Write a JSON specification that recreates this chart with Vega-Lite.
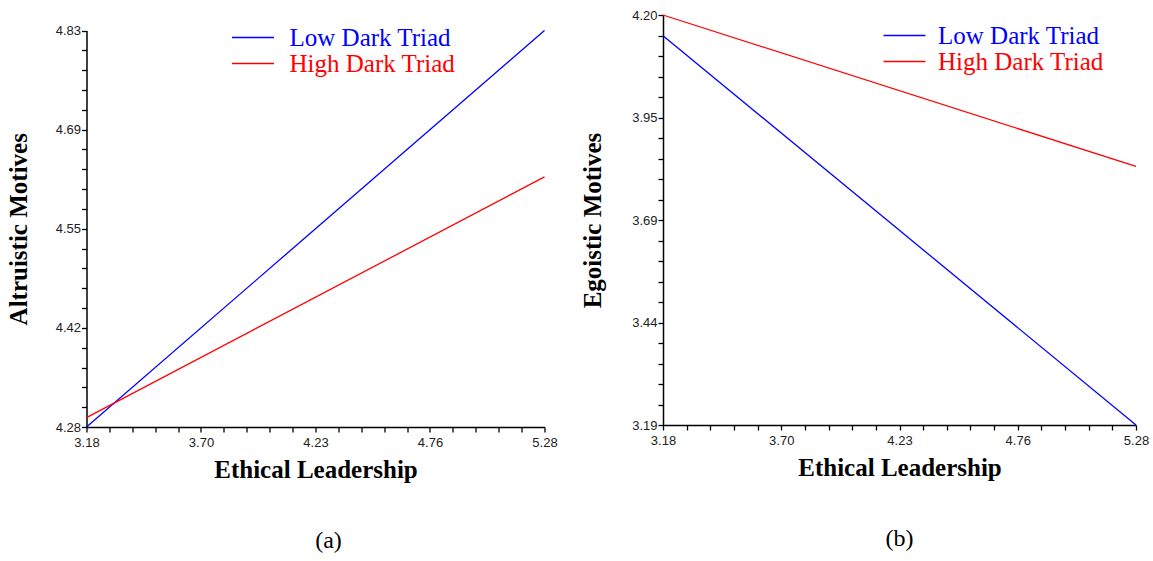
{
  "$schema": "https://vega.github.io/schema/vega-lite/v6.json",
  "background": "white",
  "padding": {"left": 5.5, "top": 9, "right": 5, "bottom": 5},
  "config": {
    "view": {"stroke": null},
    "axis": {
      "grid": false,
      "domainColor": "black",
      "domainWidth": 1.5,
      "tickColor": "black",
      "tickWidth": 1.3,
      "tickSize": 5,
      "labelFont": "Liberation Sans",
      "labelFontSize": 13,
      "labelColor": "#222",
      "labelFlush": false,
      "labelOverlap": false,
      "labelBound": false,
      "titleFont": "Liberation Serif",
      "titleFontWeight": "bold",
      "titleFontSize": 25,
      "titleColor": "black"
    },
    "legend": {
      "labelFont": "Liberation Serif",
      "labelFontSize": 25,
      "labelLimit": 0,
      "symbolType": "M-4,0H4",
      "symbolSize": 110.25,
      "symbolStrokeWidth": 1.5,
      "rowPadding": 0
    },
    "title": {"font": "Liberation Serif", "fontSize": 24, "fontWeight": "normal", "color": "black"}
  },
  "spacing": 22.5,
  "resolve": {"scale": {"color": "independent"}, "legend": {"color": "independent"}},
  "hconcat": [
    {
      "width": 458,
      "height": 412,
      "title": {"text": "(a)", "orient": "bottom", "dx": 13, "offset": 47},
      "data": {"values": [
        {"ethical_leadership": 3.18, "altruistic_motives": 4.28, "group": "Low Dark Triad"},
        {"ethical_leadership": 5.28, "altruistic_motives": 4.83, "group": "Low Dark Triad"},
        {"ethical_leadership": 3.18, "altruistic_motives": 4.293, "group": "High Dark Triad"},
        {"ethical_leadership": 5.28, "altruistic_motives": 4.627, "group": "High Dark Triad"}
      ]},
      "mark": {"type": "line", "strokeWidth": 1.3},
      "encoding": {
        "x": {
          "field": "ethical_leadership", "type": "quantitative",
          "scale": {"domain": [3.18, 5.28], "nice": false, "zero": false},
          "axis": {
            "title": "Ethical Leadership",
            "values": [3.18, 3.285, 3.39, 3.495, 3.6, 3.705, 3.81, 3.915, 4.02, 4.125, 4.23, 4.335, 4.44, 4.545, 4.65, 4.755, 4.86, 4.965, 5.07, 5.175, 5.28],
            "labelExpr": "datum.value == 3.18 ? '3.18' : datum.value == 3.705 ? '3.70' : datum.value == 4.23 ? '4.23' : datum.value == 4.755 ? '4.76' : datum.value == 5.28 ? '5.28' : ''",
            "labelPadding": 4,
            "titlePadding": 8
          }
        },
        "y": {
          "field": "altruistic_motives", "type": "quantitative",
          "scale": {"domain": [4.28, 4.83], "range": [412, 15.5], "nice": false, "zero": false},
          "axis": {
            "title": "Altruistic Motives",
            "values": [4.28, 4.3075, 4.335, 4.3625, 4.39, 4.4175, 4.445, 4.4725, 4.5, 4.5275, 4.555, 4.5825, 4.61, 4.6375, 4.665, 4.6925, 4.72, 4.7475, 4.775, 4.8025, 4.83],
            "labelExpr": "datum.value == 4.28 ? '4.28' : datum.value == 4.4175 ? '4.42' : datum.value == 4.555 ? '4.55' : datum.value == 4.6925 ? '4.69' : datum.value == 4.83 ? '4.83' : ''",
            "labelPadding": 1,
            "titlePadding": 24
          }
        },
        "color": {
          "field": "group", "type": "nominal",
          "scale": {"domain": ["Low Dark Triad", "High Dark Triad"], "range": ["#0000ff", "#ff0000"]},
          "legend": {
            "title": null,
            "orient": "none",
            "legendX": 154,
            "legendY": 10,
            "padding": 0,
            "labelOffset": 24,
            "encode": {"labels": {"update": {"fill": {"signal": "datum.value === 'Low Dark Triad' ? '#0000ff' : '#ff0000'"}}}}
          }
        }
      }
    },
    {
      "width": 473,
      "height": 410,
      "title": {"text": "(b)", "orient": "bottom", "offset": 47},
      "data": {"values": [
        {"ethical_leadership": 3.18, "egoistic_motives": 4.149, "group": "Low Dark Triad"},
        {"ethical_leadership": 5.28, "egoistic_motives": 3.19, "group": "Low Dark Triad"},
        {"ethical_leadership": 3.18, "egoistic_motives": 4.2, "group": "High Dark Triad"},
        {"ethical_leadership": 5.28, "egoistic_motives": 3.827, "group": "High Dark Triad"}
      ]},
      "mark": {"type": "line", "strokeWidth": 1.3},
      "encoding": {
        "x": {
          "field": "ethical_leadership", "type": "quantitative",
          "scale": {"domain": [3.18, 5.28], "nice": false, "zero": false},
          "axis": {
            "title": "Ethical Leadership",
            "values": [3.18, 3.285, 3.39, 3.495, 3.6, 3.705, 3.81, 3.915, 4.02, 4.125, 4.23, 4.335, 4.44, 4.545, 4.65, 4.755, 4.86, 4.965, 5.07, 5.175, 5.28],
            "labelExpr": "datum.value == 3.18 ? '3.18' : datum.value == 3.705 ? '3.70' : datum.value == 4.23 ? '4.23' : datum.value == 4.755 ? '4.76' : datum.value == 5.28 ? '5.28' : ''",
            "labelPadding": 4,
            "titlePadding": 8
          }
        },
        "y": {
          "field": "egoistic_motives", "type": "quantitative",
          "scale": {"domain": [3.19, 4.2], "nice": false, "zero": false},
          "axis": {
            "title": "Egoistic Motives",
            "values": [3.19, 3.2405, 3.291, 3.3415, 3.392, 3.4425, 3.493, 3.5435, 3.594, 3.6445, 3.695, 3.7455, 3.796, 3.8465, 3.897, 3.9475, 3.998, 4.0485, 4.099, 4.1495, 4.2],
            "labelExpr": "datum.value == 3.19 ? '3.19' : datum.value == 3.4425 ? '3.44' : datum.value == 3.695 ? '3.69' : datum.value == 3.9475 ? '3.95' : datum.value == 4.2 ? '4.20' : ''",
            "labelPadding": 1,
            "titlePadding": 26
          }
        },
        "color": {
          "field": "group", "type": "nominal",
          "scale": {"domain": ["Low Dark Triad", "High Dark Triad"], "range": ["#0000ff", "#ff0000"]},
          "legend": {
            "title": null,
            "orient": "none",
            "legendX": 229,
            "legendY": 8,
            "padding": 0,
            "labelOffset": 21,
            "encode": {"labels": {"update": {"fill": {"signal": "datum.value === 'Low Dark Triad' ? '#0000ff' : '#ff0000'"}}}}
          }
        }
      }
    }
  ]
}
